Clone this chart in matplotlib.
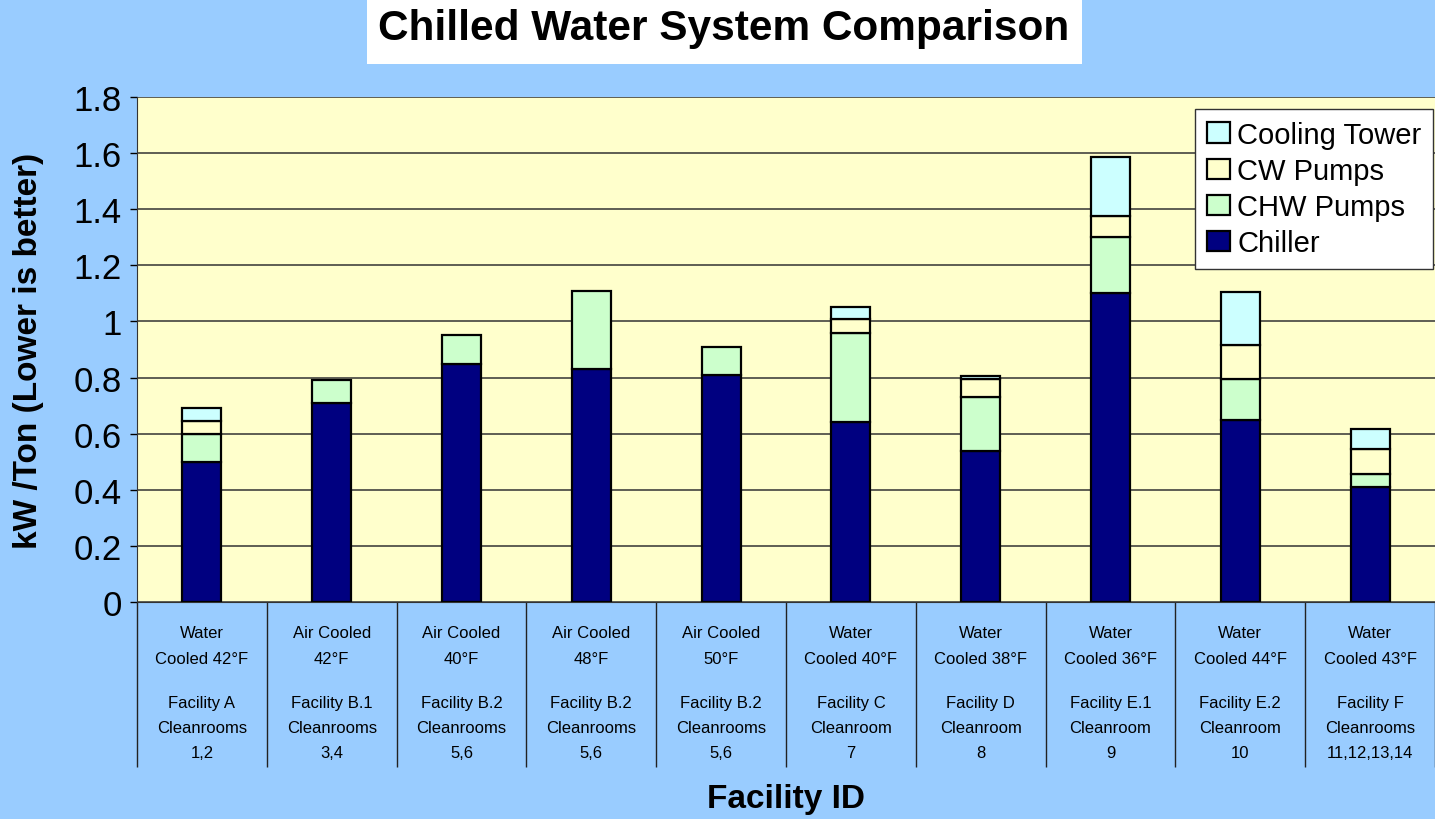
import numpy as np
import matplotlib.pyplot as plt
from matplotlib.patches import Rectangle

plt.rcParams['font.family'] = ['Liberation Sans', 'DejaVu Sans']

# data (kW/ton)
top_lines = ['Water\nCooled 42°F', 'Air Cooled\n42°F', 'Air Cooled\n40°F', 'Air Cooled\n48°F',
             'Air Cooled\n50°F', 'Water\nCooled 40°F', 'Water\nCooled 38°F', 'Water\nCooled 36°F',
             'Water\nCooled 44°F', 'Water\nCooled 43°F']
bottom_lines = ['Facility A\nCleanrooms\n1,2', 'Facility B.1\nCleanrooms\n3,4',
                'Facility B.2\nCleanrooms\n5,6', 'Facility B.2\nCleanrooms\n5,6',
                'Facility B.2\nCleanrooms\n5,6', 'Facility C\nCleanroom\n7',
                'Facility D\nCleanroom\n8', 'Facility E.1\nCleanroom\n9',
                'Facility E.2\nCleanroom\n10', 'Facility F\nCleanrooms\n11,12,13,14']
chiller = [0.50, 0.71, 0.85, 0.83, 0.81, 0.64, 0.54, 1.10, 0.65, 0.41]
chw_pumps = [0.10, 0.08, 0.10, 0.28, 0.10, 0.32, 0.19, 0.20, 0.145, 0.045]
cw_pumps = [0.045, 0.0, 0.0, 0.0, 0.0, 0.05, 0.065, 0.077, 0.12, 0.09]
cooling_tower = [0.045, 0.0, 0.0, 0.0, 0.0, 0.04, 0.01, 0.21, 0.19, 0.07]

series = [('Chiller', chiller, '#000080'),
          ('CHW Pumps', chw_pumps, '#CCFFCC'),
          ('CW Pumps', cw_pumps, '#FFFFCC'),
          ('Cooling Tower', cooling_tower, '#CCFFFF')]

fig = plt.figure(figsize=(14.35, 8.2), dpi=100, facecolor='#99CCFF')
ax = fig.add_axes([137 / 1435, 1 - 603 / 820, 1 - 137 / 1435, 505 / 820])
ax.set_facecolor('#FFFFCC')

x = np.arange(len(chiller))
bottom = np.zeros(len(x))
handles = []
for name, vals, col in series:
    vals = np.array(vals)
    mask = vals > 0
    b = ax.bar(x[mask], vals[mask], 0.3, bottom=bottom[mask], color=col,
               edgecolor='black', linewidth=1.6, zorder=3, label=name)
    handles.append(b)
    bottom += vals

ax.set_ylim(0, 1.8)
ax.set_xlim(-0.5, len(x) - 0.5)
ax.set_yticks(np.arange(0, 1.81, 0.2))
ax.set_yticklabels(['0', '0.2', '0.4', '0.6', '0.8', '1', '1.2', '1.4', '1.6', '1.8'])
ax.yaxis.grid(True, color='#333333', linewidth=1.1, zorder=0)
ax.set_axisbelow(True)
ax.tick_params(axis='y', labelsize=25, length=5, width=1, pad=6)

# category separators below the plot
ax.set_xticks([])
ax.set_xticks(np.arange(-0.5, len(x)), minor=True)
ax.tick_params(axis='x', which='minor', length=119, width=1, color='#222222')

for s in ['top', 'right']:
    ax.spines[s].set_visible(False)
ax.spines['left'].set_color('#333333')
ax.spines['bottom'].set_color('#333333')

trans = ax.get_xaxis_transform()
for i in x:
    ax.text(i, -0.086, top_lines[i], transform=trans, ha='center', va='center',
            fontsize=12, linespacing=1.85)
    ax.text(i, -0.248, bottom_lines[i], transform=trans, ha='center', va='center',
            fontsize=12, linespacing=1.85)

leg = ax.legend(handles[::-1], [h.get_label() for h in handles[::-1]],
                loc='upper right', bbox_to_anchor=(0.9985, 0.976), fontsize=21,
                frameon=True, fancybox=False, edgecolor='#333333', framealpha=1,
                handlelength=0.8, handleheight=0.7, handletextpad=0.25,
                labelspacing=0.28, borderpad=0.4, borderaxespad=0)
leg.get_frame().set_linewidth(1)

ax.set_ylabel('kW /Ton (Lower is better)', fontsize=24, fontweight='bold')
ax.yaxis.set_label_coords(-(137 - 44) / 1298, 0.5)
fig.text(786 / 1435, 1 - 800 / 820, 'Facility ID', fontsize=24, fontweight='bold',
         ha='center', va='center')

fig.patches.append(Rectangle((367 / 1435, 1 - 65 / 820), 715 / 1435, 65 / 820,
                             transform=fig.transFigure, facecolor='white',
                             edgecolor='none', zorder=0))
fig.text(724 / 1435, 1 - 40 / 820, 'Chilled Water System Comparison', fontsize=30.5,
         fontweight='bold', ha='center', va='baseline')

fig.savefig('out.png', dpi=100, facecolor=fig.get_facecolor())
